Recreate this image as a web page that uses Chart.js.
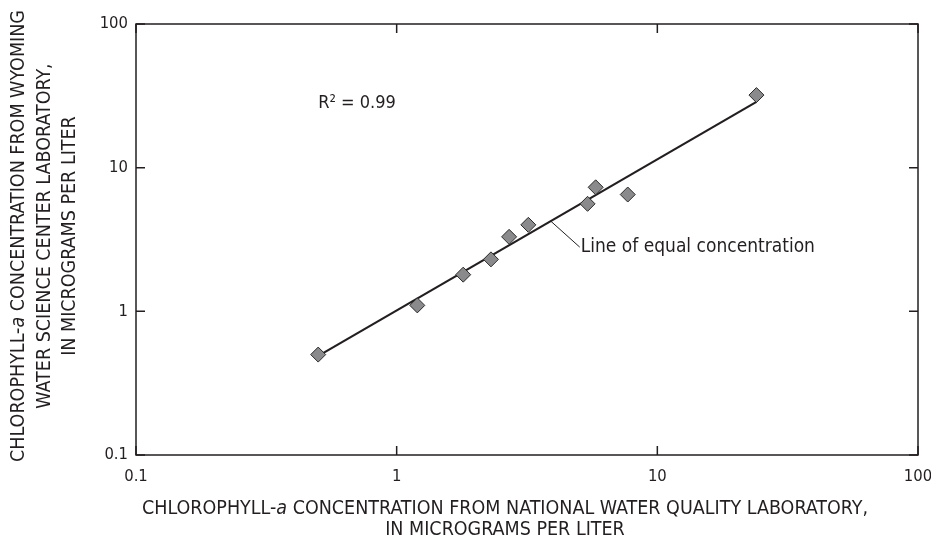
<!DOCTYPE html>
<html>
<head>
<meta charset="utf-8">
<script src="https://cdn.jsdelivr.net/npm/chart.js@4"></script>
<style>
  body { margin: 0; background: #fff; }
  #wrap { width: 931px; height: 542px; position: relative; }
</style>
</head>
<body>
<div id="wrap"><canvas id="chart"></canvas></div>
<script>
// values (log-log)
const nwqlValues = [0.5, 1.2, 1.8, 2.3, 2.7, 3.2, 5.4, 5.8, 7.7, 24];
const wwscValues = [0.5, 1.1, 1.8, 2.3, 3.3, 4.0, 5.6, 7.3, 6.5, 32];
const lineXValues = [0.52, 24];
const lineYValues = [0.51, 28.7];
const tickValues = [0.1, 1, 10, 100];
const r2Label = "R² = 0.99";
const lineLabel = "Line of equal concentration";

const FONT = "'Liberation Sans Narrow', 'DejaVu Sans Condensed', 'Arial Narrow', sans-serif";
const INK = "#231f20";

// draw a line of text made of parts, some italic, centred on cx
function drawParts(ctx, parts, cx, cy, size) {
  let total = 0;
  parts.forEach(p => {
    ctx.font = (p.italic ? "italic " : "") + size + "px " + FONT;
    p.w = ctx.measureText(p.text).width;
    total += p.w;
  });
  let x = cx - total / 2;
  ctx.textAlign = "left";
  ctx.textBaseline = "middle";
  parts.forEach(p => {
    ctx.font = (p.italic ? "italic " : "") + size + "px " + FONT;
    ctx.fillText(p.text, x, cy);
    x += p.w;
  });
}

const framePlugin = {
  id: "frame",
  afterDatasetsDraw(chart) {
    const ctx = chart.ctx;
    const a = chart.chartArea;
    const xs = chart.scales.x, ys = chart.scales.y;
    ctx.save();
    ctx.strokeStyle = INK;
    ctx.lineWidth = 1.5;
    ctx.strokeRect(a.left, a.top, a.right - a.left, a.bottom - a.top);
    const tl = 9;
    ctx.beginPath();
    tickValues.forEach(v => {
      const px = xs.getPixelForValue(v);
      const py = ys.getPixelForValue(v);
      ctx.moveTo(px, a.bottom); ctx.lineTo(px, a.bottom - tl);
      ctx.moveTo(px, a.top); ctx.lineTo(px, a.top + tl);
      ctx.moveTo(a.left, py); ctx.lineTo(a.left + tl, py);
      ctx.moveTo(a.right, py); ctx.lineTo(a.right - tl, py);
    });
    ctx.stroke();

    ctx.fillStyle = INK;
    // R² note
    ctx.font = "18px " + FONT;
    ctx.textAlign = "left";
    ctx.textBaseline = "middle";
    ctx.fillText(r2Label, xs.getPixelForValue(0.5), ys.getPixelForValue(28));

    // leader from the line to its label
    const lx = 3.9;
    const t = (Math.log10(lx) - Math.log10(lineXValues[0])) /
              (Math.log10(lineXValues[1]) - Math.log10(lineXValues[0]));
    const ly = Math.pow(10, Math.log10(lineYValues[0]) + t * (Math.log10(lineYValues[1]) - Math.log10(lineYValues[0])));
    const sx = xs.getPixelForValue(lx), sy = ys.getPixelForValue(ly);
    ctx.lineWidth = 1;
    ctx.beginPath();
    ctx.moveTo(sx, sy);
    ctx.lineTo(sx + 29, sy + 26);
    ctx.stroke();
    ctx.font = "19px " + FONT;
    ctx.fillText(lineLabel, sx + 30, sy + 26);

    // axis titles
    const chl = [{ text: "CHLOROPHYLL-" }, { text: "a", italic: true }];
    drawParts(ctx, chl.concat([{ text: " CONCENTRATION FROM NATIONAL WATER QUALITY LABORATORY," }]), 505, 509, 19.5);
    drawParts(ctx, [{ text: "IN MICROGRAMS PER LITER" }], 505, 530, 19.5);

    const yLines = [
      chl.concat([{ text: " CONCENTRATION FROM WYOMING" }]),
      [{ text: "WATER SCIENCE CENTER LABORATORY," }],
      [{ text: "IN MICROGRAMS PER LITER" }]
    ];
    const yCols = [19, 45, 70];
    yLines.forEach((parts, i) => {
      ctx.save();
      ctx.translate(yCols[i], 236);
      ctx.rotate(-Math.PI / 2);
      drawParts(ctx, parts, 0, 0, 19.5);
      ctx.restore();
    });
    ctx.restore();
  }
};

const decadeTicks = scale => { scale.ticks = tickValues.map(v => ({ value: v })); };

new Chart(document.getElementById("chart"), {
  type: "scatter",
  data: {
    datasets: [
      {
        label: "Samples",
        data: nwqlValues.map((x, i) => ({ x: x, y: wwscValues[i] })),
        pointStyle: "rectRot",
        pointRadius: 7.5,
        backgroundColor: "#8a8a8c",
        borderColor: "#2b2b2b",
        borderWidth: 1,
        order: 1
      },
      {
        label: "Line of equal concentration",
        type: "line",
        data: lineXValues.map((x, i) => ({ x: x, y: lineYValues[i] })),
        borderColor: INK,
        borderWidth: 2.2,
        pointRadius: 0,
        fill: false,
        order: 2
      }
    ]
  },
  options: {
    responsive: true,
    maintainAspectRatio: false,
    animation: false,
    layout: { padding: { top: 24, right: 13, left: 0, bottom: 0 } },
    plugins: { legend: { display: false }, tooltip: { enabled: false } },
    scales: {
      x: {
        type: "logarithmic",
        min: 0.1,
        max: 100,
        afterBuildTicks: decadeTicks,
        afterFit: s => { s.height = 87; s.paddingLeft = 0; s.paddingRight = 0; },
        grid: { display: false },
        border: { display: false },
        ticks: {
          padding: 4,
          color: INK,
          font: { family: FONT, size: 16.5 },
          maxRotation: 0,
          autoSkip: false,
          callback: v => String(v)
        }
      },
      y: {
        type: "logarithmic",
        min: 0.1,
        max: 100,
        afterBuildTicks: decadeTicks,
        afterFit: s => { s.width = 136; s.paddingTop = 0; s.paddingBottom = 0; },
        grid: { display: false },
        border: { display: false },
        ticks: {
          padding: 0,
          color: INK,
          font: { family: FONT, size: 16.5 },
          autoSkip: false,
          callback: v => String(v)
        }
      }
    }
  },
  plugins: [framePlugin]
});
</script>
</body>
</html>
